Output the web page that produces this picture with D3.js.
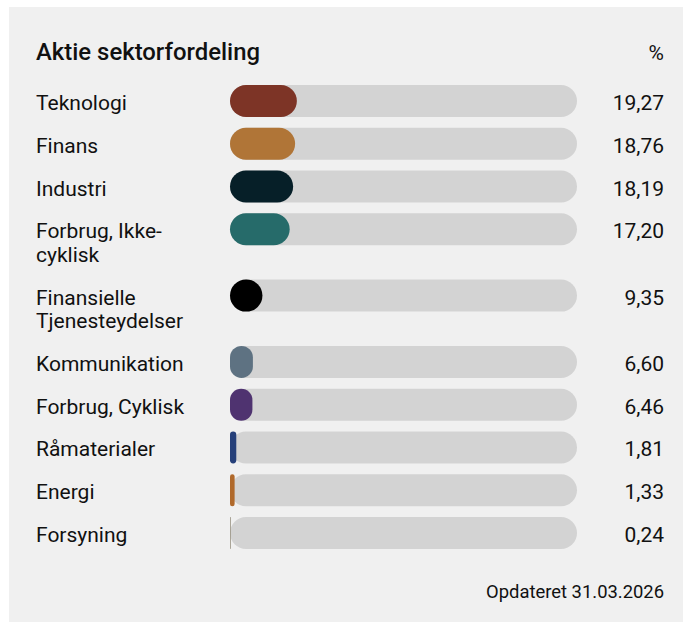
<html>
  <head>
    <style>
      body {
        margin:0;
        background:#fff;
        font-family:Roboto, "Helvetica Neue", Arial, sans-serif;
      }
      .chart text {
        fill:#111;
      }
      .chart .title {
        font-size:23.9px;
        font-weight:500;
      }
      .chart .label, .chart .value {
        font-size:21px;
      }
      .chart .updated {
        font-size:18.4px;
      }
    </style>
  </head>
  <body>
    <div class="chart"></div>
    <script src="https://cdn.jsdelivr.net/npm/d3@7"></script>
    <script>
      var sectors = ["Teknologi", "Finans", "Industri", "Forbrug, Ikke-cyklisk",
        "Finansielle Tjenesteydelser", "Kommunikation", "Forbrug, Cyklisk",
        "Råmaterialer", "Energi", "Forsyning"];
      var shares = [19.27, 18.76, 18.19, 17.20, 9.35, 6.60, 6.46, 1.81, 1.33, 0.24];
      var colors = ["#7d3426", "#b07537", "#061f28", "#266b6a", "#000000",
        "#5e7282", "#4f3370", "#26407a", "#b0692b", "#9c9686"];
      var title = "Aktie sektorfordeling";
      var unit = "%";
      var updated = "Opdateret 31.03.2026";

      var width = 683;
      var height = 622;
      var barH = 32;
      var rowGap = 42.75;
      var lineH = 23.6;
      var labelMax = 185;

      var svg = d3.select(".chart").append("svg")
        .attr("width", width)
        .attr("height", height);

      svg.append("rect")
        .attr("x", 9)
        .attr("y", 7)
        .attr("width", width - 9)
        .attr("height", height - 7)
        .attr("fill", "#f0f0f0");

      var x = d3.scaleLinear()
        .domain([0, 100])
        .range([230, 577]);

      var fmt = function (v) {
        return v.toFixed(2).replace(".", ",");
      };

      // header
      svg.append("text")
        .attr("class", "title")
        .attr("x", 36)
        .attr("y", 60)
        .text(title);
      svg.append("text")
        .attr("class", "value")
        .attr("x", 664)
        .attr("y", 60)
        .attr("text-anchor", "end")
        .text(unit);

      // measure and wrap labels (break after spaces and hyphens)
      var measure = svg.append("text").attr("class", "label");
      function wrap (s) {
        var parts = s.match(/[^ -]+[ -]?/g);
        var lines = [];
        var cur = "";
        parts.forEach(function (p) {
          var test = (cur + p).trim();
          measure.text(test);
          if (cur && measure.node().getComputedTextLength() > labelMax) {
            lines.push(cur.trim());
            cur = p;
          } else {
            cur = cur + p;
          }
        });
        lines.push(cur.trim());
        return lines;
      }
      var wrapped = sectors.map(wrap);
      measure.remove();

      var tops = [];
      var y0 = 85;
      wrapped.forEach(function (lines) {
        tops.push(y0);
        y0 += rowGap + (lines.length - 1)*lineH;
      });

      var rows = svg.append("g").selectAll("g")
        .data(sectors)
        .join("g")
        .attr("transform", function (d, i) {
          return "translate(0," + tops[i] + ")";
        });

      rows.append("rect")
        .attr("x", x(0))
        .attr("y", 0)
        .attr("width", x(100) - x(0))
        .attr("height", barH)
        .attr("rx", barH/2)
        .attr("fill", "#d3d3d3");

      rows.append("rect")
        .attr("x", x(0))
        .attr("y", 0)
        .attr("width", function (d, i) { return x(shares[i]) - x(0); })
        .attr("height", barH)
        .attr("rx", function (d, i) { return Math.min(barH/2, (x(shares[i]) - x(0))/2); })
        .attr("fill", function (d, i) { return colors[i]; });

      rows.append("text")
        .attr("class", "label")
        .selectAll("tspan")
        .data(function (d, i) { return wrapped[i]; })
        .join("tspan")
        .attr("x", 36)
        .attr("y", function (d, j) { return barH/2 + 9 + j*lineH; })
        .text(function (d) { return d; });

      rows.append("text")
        .attr("class", "value")
        .attr("x", 664)
        .attr("y", barH/2 + 9)
        .attr("text-anchor", "end")
        .text(function (d, i) { return fmt(shares[i]); });

      svg.append("text")
        .attr("class", "updated")
        .attr("x", 664)
        .attr("y", 598)
        .attr("text-anchor", "end")
        .text(updated);
    </script>
  </body>
</html>
